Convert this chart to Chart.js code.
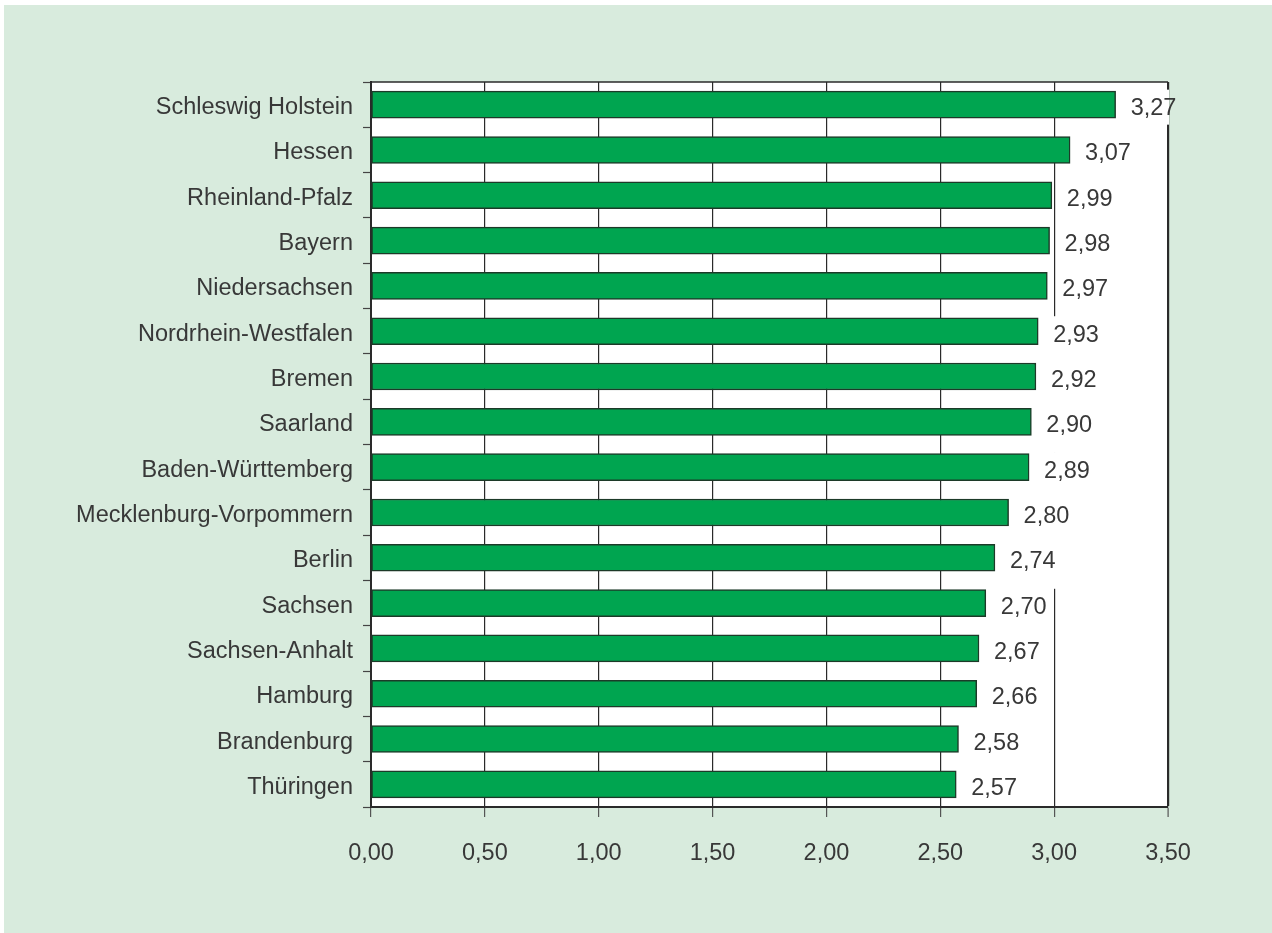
<!DOCTYPE html>
<html>
<head>
<meta charset="utf-8">
<script src="https://cdn.jsdelivr.net/npm/chart.js@4.4.1/dist/chart.umd.min.js"></script>
<style>
  html, body { margin: 0; padding: 0; background: #ffffff; }
  canvas { display: block; }
</style>
</head>
<body>
<canvas id="chart" width="1272" height="933"></canvas>
<script>
// Bundesländer, sortiert wie im Original
const laender = [
  'Schleswig Holstein', 'Hessen', 'Rheinland-Pfalz', 'Bayern', 'Niedersachsen',
  'Nordrhein-Westfalen', 'Bremen', 'Saarland', 'Baden-Württemberg',
  'Mecklenburg-Vorpommern', 'Berlin', 'Sachsen', 'Sachsen-Anhalt', 'Hamburg',
  'Brandenburg', 'Thüringen'
];
const werte = [3.27, 3.07, 2.99, 2.98, 2.97, 2.93, 2.92, 2.90, 2.89, 2.80, 2.74, 2.70, 2.67, 2.66, 2.58, 2.57];
const xMin = 0;
const xMax = 3.5;
const xStep = 0.5;

const fmt = v => Number(v).toFixed(2).replace('.', ',');
const FONT = "'Liberation Sans', Arial, Helvetica, sans-serif";
const TEXT = '#383838';
const LINE = '#2a2a2a';

// Hintergrund: weisser Rand oben/links, sonst hellgruen, Plotfläche weiss
const hintergrund = {
  id: 'hintergrund',
  beforeDraw(chart) {
    const { ctx, chartArea: a } = chart;
    ctx.save();
    ctx.fillStyle = '#ffffff';
    ctx.fillRect(0, 0, chart.width, chart.height);
    ctx.fillStyle = '#d8ebdd';
    ctx.fillRect(4, 5, chart.width - 4, chart.height - 5);
    ctx.fillStyle = '#ffffff';
    ctx.fillRect(a.left, a.top, a.right - a.left, a.bottom - a.top);
    ctx.restore();
  },
  beforeDatasetsDraw(chart) {
    // obere Rahmenlinie
    const { ctx, chartArea: a } = chart;
    ctx.save();
    ctx.strokeStyle = LINE;
    ctx.lineWidth = 1.5;
    ctx.beginPath();
    ctx.moveTo(a.left, a.top);
    ctx.lineTo(a.right, a.top);
    ctx.stroke();
    ctx.restore();
  }
};

// Wertbeschriftung mit weissem Kasten (verdeckt Gitterlinien)
const wertLabels = {
  id: 'wertLabels',
  afterDatasetsDraw(chart) {
    const { ctx, chartArea: a } = chart;
    const meta = chart.getDatasetMeta(0);
    ctx.save();
    ctx.font = '23.5px ' + FONT;
    ctx.textBaseline = 'middle';
    ctx.textAlign = 'left';
    meta.data.forEach((bar, i) => {
      const txt = fmt(werte[i]);
      const w = ctx.measureText(txt).width;
      const tx = bar.x + 15;
      const ty = bar.y + 4;
      ctx.save();
      ctx.beginPath();
      ctx.rect(a.left, a.top + 1, a.right - a.left + 1, a.bottom - a.top - 3);
      ctx.clip();
      ctx.fillStyle = '#ffffff';
      ctx.fillRect(tx - 4, bar.y - 15, w + 8, i === 0 ? 35 : 46);
      ctx.restore();
      ctx.fillStyle = TEXT;
      ctx.fillText(txt, tx, ty);
    });
    ctx.restore();
  }
};

new Chart(document.getElementById('chart'), {
  type: 'bar',
  data: {
    labels: laender,
    datasets: [{
      data: werte,
      backgroundColor: '#00a550',
      borderColor: '#1c3a28',
      borderWidth: 1.5,
      borderSkipped: false,
      barThickness: 27
    }]
  },
  options: {
    indexAxis: 'y',
    responsive: false,
    devicePixelRatio: 1,
    animation: false,
    layout: { padding: { top: 82, right: 104, left: 0, bottom: 0 } },
    plugins: {
      legend: { display: false },
      tooltip: { enabled: false }
    },
    scales: {
      x: {
        min: xMin,
        max: xMax,
        ticks: {
          stepSize: xStep,
          callback: v => fmt(v),
          color: TEXT,
          font: { family: FONT, size: 23.5 },
          padding: 22,
          maxRotation: 0
        },
        grid: {
          color: LINE,
          lineWidth: c => (c.tick && c.tick.value === xMax ? 2.2 : 1.2),
          drawOnChartArea: true,
          drawTicks: true,
          tickLength: 10,
          tickColor: '#555555',
          tickWidth: 1.2
        },
        border: { color: LINE, width: 2 },
        afterFit: s => { s.height = 126; }
      },
      y: {
        offset: true,
        ticks: {
          color: TEXT,
          font: { family: FONT, size: 23.5 },
          padding: 10,
          labelOffset: 3,
          autoSkip: false
        },
        grid: {
          offset: true,
          drawOnChartArea: false,
          drawTicks: true,
          tickLength: 8,
          tickColor: '#444444',
          tickWidth: 1.2
        },
        border: { color: LINE, width: 2 },
        afterFit: s => { s.width = 371; }
      }
    }
  },
  plugins: [hintergrund, wertLabels]
});
</script>
</body>
</html>
